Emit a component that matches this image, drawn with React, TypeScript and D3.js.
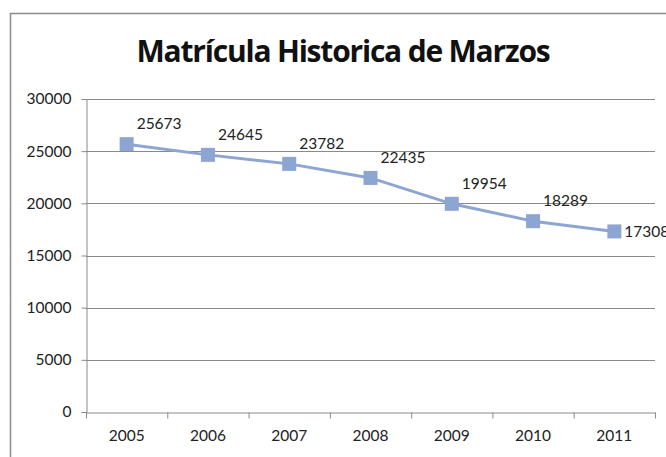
import React, { useEffect, useRef } from "react";
import * as d3 from "d3";

const years = ["2005", "2006", "2007", "2008", "2009", "2010", "2011"];
const enrollment = [25673, 24645, 23782, 22435, 19954, 18289, 17308];
const yTicks = [0, 5000, 10000, 15000, 20000, 25000, 30000];

const chartTitle = "Matrícula Historica de Marzos";

function App() {
  const svgRef = useRef<SVGSVGElement>(null);

  useEffect(() => {
    const svg = d3.select(svgRef.current);
    svg.selectAll("*").remove();
    const width = 666;
    const height = 457;
    const margin = { top: 99, right: 11, bottom: 45, left: 86 };
    const lineColor = "#8da5d3";
    const font = "Lato, 'Open Sans', sans-serif";
    const labelSize = 15.5;

    svg.append("rect").attr("width", width).attr("height", height).attr("fill", "#fff");

    // outer frame (cut off on the right and bottom)
    svg
      .append("path")
      .attr("d", `M10.5,${height + 2} V13.5 H${width + 2}`)
      .attr("fill", "none")
      .attr("stroke", "#8c8c8c")
      .attr("stroke-width", 1.5);

    const xScale = d3
      .scaleBand()
      .domain(years)
      .range([margin.left, width - margin.right]);
    const yScale = d3
      .scaleLinear()
      .domain([0, 30000])
      .range([height - margin.bottom, margin.top]);

    // title
    svg
      .append("text")
      .attr("x", 343)
      .attr("y", 62)
      .attr("text-anchor", "middle")
      .attr("font-family", "'Open Sans', sans-serif")
      .attr("font-weight", "bold")
      .attr("font-size", 30)
      .attr("letter-spacing", -1.2)
      .attr("fill", "#111")
      .text(chartTitle);

    // gridlines
    svg
      .append("g")
      .selectAll("line")
      .data(yTicks.filter((t) => t > 0))
      .join("line")
      .attr("x1", margin.left)
      .attr("x2", width - margin.right)
      .attr("y1", (d) => Math.round(yScale(d)) + 0.5)
      .attr("y2", (d) => Math.round(yScale(d)) + 0.5)
      .attr("stroke", "#8a8a8a")
      .attr("stroke-width", 1);

    // Y-axis ticks and tick labels
    const yAxis = d3
      .axisLeft(yScale)
      .tickValues(yTicks)
      .tickFormat(d3.format("d"))
      .tickSize(5)
      .tickPadding(10);
    const yG = svg
      .append("g")
      .attr("transform", `translate(${margin.left + 0.5}, 0)`)
      .call(yAxis);
    yG.select(".domain").attr("stroke", "#8a8a8a");
    yG.selectAll(".tick line").attr("stroke", "#8a8a8a");
    yG.selectAll(".tick text")
      .attr("font-family", font)
      .attr("font-size", labelSize)
      .attr("fill", "#222");

    // X-axis ticks and tick labels
    const xAxis = d3.axisBottom(xScale).tickSize(0).tickPadding(17);
    const xG = svg
      .append("g")
      .attr("transform", `translate(0, ${height - margin.bottom + 0.5})`)
      .call(xAxis);
    xG.select(".domain").attr("stroke", "#8a8a8a");
    xG.selectAll(".tick text")
      .attr("font-family", font)
      .attr("font-size", labelSize)
      .attr("fill", "#222");
    xG.selectAll(".boundary")
      .data(years.concat([""]))
      .join("line")
      .attr("class", "boundary")
      .attr("x1", (d, i) => margin.left + i * xScale.step() + 0.5)
      .attr("x2", (d, i) => margin.left + i * xScale.step() + 0.5)
      .attr("y1", 0)
      .attr("y2", 6)
      .attr("stroke", "#8a8a8a");

    const cx = (d: string) => (xScale(d) ?? 0) + xScale.bandwidth() / 2;

    const lineGenerator = d3
      .line<number>()
      .x((d, i) => cx(years[i]))
      .y((d) => yScale(d));

    svg
      .append("path")
      .datum(enrollment)
      .attr("fill", "none")
      .attr("stroke", lineColor)
      .attr("stroke-width", 3)
      .attr("d", lineGenerator);

    svg
      .append("g")
      .selectAll("rect")
      .data(enrollment)
      .join("rect")
      .attr("x", (d, i) => cx(years[i]) - 7)
      .attr("y", (d) => yScale(d) - 7)
      .attr("width", 14)
      .attr("height", 14)
      .attr("fill", lineColor);

    // data labels
    const last = enrollment.length - 1;
    svg
      .append("g")
      .selectAll("text")
      .data(enrollment)
      .join("text")
      .attr("x", (d, i) => cx(years[i]) + 10)
      .attr("y", (d, i) => yScale(d) + (i === last ? 6 : -15))
      .attr("font-family", font)
      .attr("font-size", labelSize)
      .attr("fill", "#222")
      .text((d) => d);
  }, []);

  return (
    <svg
      ref={svgRef}
      width={666}
      height={457}
      style={{ position: "absolute", left: 0, top: 0, overflow: "hidden" }}
    ></svg>
  );
}

export default App;
